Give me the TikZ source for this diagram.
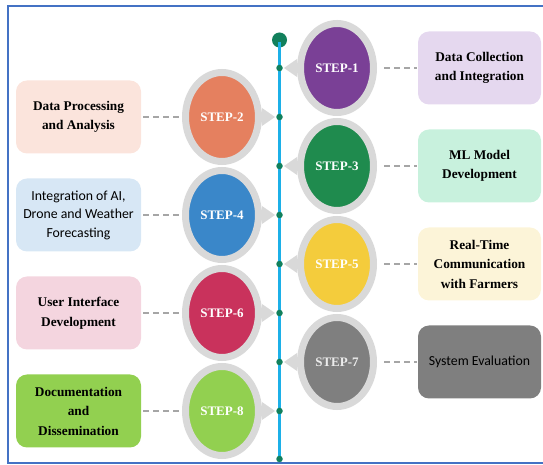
\documentclass[tikz,border=0pt]{standalone}
\usepackage{fontspec}
\setmainfont{Liberation Serif}
\newfontfamily\calibri{Carlito}
\usetikzlibrary{shapes.geometric,calc}

\definecolor{frameblue}{HTML}{4472C4}
\definecolor{ringgray}{HTML}{D9D9D9}
\definecolor{dashgray}{HTML}{A6A6A6}
\definecolor{lineblue}{HTML}{1CB0E8}
\definecolor{dotgreen}{HTML}{12805C}
\definecolor{purpleS}{HTML}{7A4096}
\definecolor{orangeS}{HTML}{E5805F}
\definecolor{greenS}{HTML}{1F8B4E}
\definecolor{blueS}{HTML}{3A87C9}
\definecolor{yellowS}{HTML}{F4CC3C}
\definecolor{crimsonS}{HTML}{C9325C}
\definecolor{grayS}{HTML}{7F7F7F}
\definecolor{limeS}{HTML}{92D050}
\definecolor{purpleL}{HTML}{E5D8EF}
\definecolor{orangeL}{HTML}{FBE4DC}
\definecolor{greenL}{HTML}{C8F1DD}
\definecolor{blueL}{HTML}{D7E7F5}
\definecolor{yellowL}{HTML}{FCF4D8}
\definecolor{pinkL}{HTML}{F4D5DF}

\tikzset{
  stepnode/.style={ellipse, draw=ringgray, line width=7pt, minimum width=73pt,
    minimum height=89pt, inner sep=0pt, text=white,
    font=\fontsize{13}{15}\selectfont\bfseries},
  taskbox/.style={rectangle, rounded corners=11pt, minimum width=123pt,
    minimum height=73pt, align=center, inner sep=2pt,
    font=\fontsize{13.3}{19.5}\selectfont\bfseries},
  sansbox/.style={taskbox, font=\fontsize{13.8}{18.5}\selectfont\calibri},
  link/.style={draw=dashgray, dash pattern=on 6pt off 4pt, line width=1.2pt},
  pointer/.style={fill=ringgray},
  stepdot/.style={circle, fill=dotgreen, inner sep=0pt, minimum size=6.5pt},
  frame/.style={draw=frameblue, line width=1.5pt},
}

\begin{document}
\begin{tikzpicture}[x=1pt, y=1pt]
\useasboundingbox (0,0) rectangle (543,465);
\draw[frame] (548,459) -- (8,459) -- (8,2) -- (548,2);

% timeline
\node[circle, fill=dotgreen, inner sep=0pt, minimum size=15pt] (start) at (279.5,425) {};
\coordinate (top) at (279.5,423);
\coordinate (bottom) at (279.5,6);
\draw[lineblue, line width=2.6pt] (top) -- (bottom);

% steps on the right
\node[stepnode, fill=purpleS] (s1) at (337,397) {STEP-1};
\node[stepnode, fill=greenS] (s3) at (337,299) {STEP-3};
\node[stepnode, fill=yellowS] (s5) at (337,201) {STEP-5};
\node[stepnode, fill=grayS, text=gray!15] (s7) at (337,103) {STEP-7};

% steps on the left
\node[stepnode, fill=orangeS] (s2) at (222,348) {STEP-2};
\node[stepnode, fill=blueS] (s4) at (222,250) {STEP-4};
\node[stepnode, fill=crimsonS] (s6) at (222,152) {STEP-6};
\node[stepnode, fill=limeS] (s8) at (222,54) {STEP-8};

\foreach \s in {s1,s3,s5,s7}
  \fill[pointer] (\s.west) ++(-13,0) -- ++(13,9) -- ++(0,-18) -- cycle;
\foreach \s in {s2,s4,s6,s8}
  \fill[pointer] (\s.east) ++(13,0) -- ++(-13,9) -- ++(0,-18) -- cycle;

% dots on the line
\foreach \y [count=\i] in {397,348,299,250,201,152,103,54}
  \node[stepdot] (d\i) at (279.5,\y) {};
\node[stepdot] (dend) at (bottom) {};

% boxes
\node[taskbox, fill=purpleL] (b1) at (479.5,397) {Data Collection\\and Integration};
\node[taskbox, fill=greenL] (b3) at (479.5,299) {ML Model\\Development};
\node[taskbox, fill=yellowL] (b5) at (479.5,201) {Real-Time\\Communication\\with Farmers};
\node[sansbox, fill=grayS] (b7) at (479.5,103) {System Evaluation};

\node[taskbox, fill=orangeL, minimum width=125pt] (b2) at (78.5,348) {Data Processing\\and Analysis};
\node[sansbox, fill=blueL, minimum width=125pt] (b4) at (78.5,250) {Integration of AI,\\Drone and Weather\\Forecasting};
\node[taskbox, fill=pinkL, minimum width=125pt] (b6) at (78.5,152) {User Interface\\Development};
\node[taskbox, fill=limeS, minimum width=125pt] (b8) at (78.5,54) {Documentation\\and\\Dissemination};

% dashed links
\foreach \n in {1,3,5,7}
  \draw[link, shorten <=7pt, shorten >=1pt] (s\n.east) -- (b\n.west);
\foreach \n in {2,4,6,8}
  \draw[link, shorten <=2pt, shorten >=3pt] (b\n.east) -- (s\n.west);
\end{tikzpicture}
\end{document}
